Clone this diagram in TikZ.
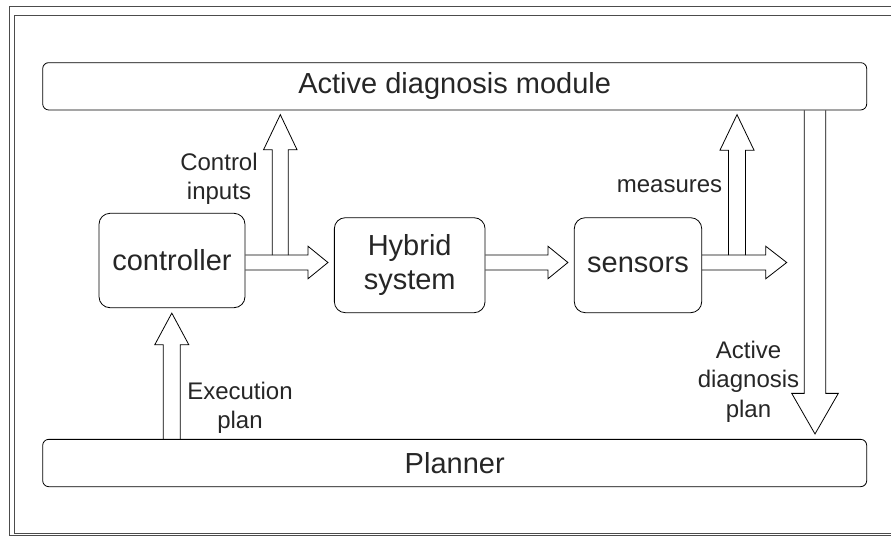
\documentclass[tikz,border=0pt]{standalone}
\usepackage{fontspec}
\setmainfont{Liberation Sans}
\usetikzlibrary{calc}

\tikzset{
  frame/.style={draw=black!70, line width=0.9pt},
  bar/.style={draw, line width=0.8pt, rounded corners=6pt, minimum width=824pt, minimum height=47.3pt, inner sep=0pt, text=black!85, font=\fontsize{29}{34}\selectfont},
  box/.style={draw, line width=0.8pt, rounded corners=11pt, align=center, inner sep=0pt, text=black!85, font=\fontsize{29}{34}\selectfont},
  fat/.style={draw, line width=0.8pt, line join=miter},
  lbl/.style={align=center, inner sep=0pt, text=black!85, font=\fontsize{24}{29.5}\selectfont}
}

% hollow block arrow: start, tip, half shaft, half head, head length
\newcommand{\fatarrow}[5]{%
  \coordinate (fa-b) at ($(#2)!#5!(#1)$);
  \draw[fat] ($(#1)!#3!90:(#2)$) -- ($(fa-b)!#3!90:(#2)$) -- ($(fa-b)!#4!90:(#2)$) -- (#2)
    -- ($(fa-b)!#4!-90:(#2)$) -- ($(fa-b)!#3!-90:(#2)$) -- ($(#1)!#3!-90:(#2)$);
}

\begin{document}
\begin{tikzpicture}[x=1pt, y=-1pt]
  \useasboundingbox (0,0) rectangle (891,536);
  \clip (0,0) rectangle (891,536);
  \draw[frame] (9.3,6) rectangle (900,535.5);
  \draw[frame] (14,15) rectangle (900,533.5);

  % modules
  \node[bar] (adm) at (454.7,86.3) {Active diagnosis module};
  \node[bar] (plan) at (454.7,463) {Planner};
  \node[box, minimum width=146pt, minimum height=94.4pt] (ctrl) at (172,260.5) {controller};
  \node[box, minimum width=150.7pt, minimum height=95pt] (hyb) at (409.7,265.2) {Hybrid\\system};
  \node[box, minimum width=127.4pt, minimum height=95pt] (sens) at (638,265.2) {sensors};

  % main row
  \coordinate (row) at (0,262.5);
  \coordinate (c1) at (ctrl.east |- row);
  \coordinate (h1) at ($(hyb.west |- row)+(-6,0)$);
  \coordinate (h2) at (hyb.east |- row);
  \coordinate (s1) at ($(sens.west |- row)+(-6,0)$);
  \coordinate (s2) at (sens.east |- row);
  \coordinate (out) at (786.7,262.5);
  \fatarrow{c1}{h1}{7.5pt}{16.3pt}{20pt}
  \fatarrow{h2}{s1}{7.5pt}{16.3pt}{20pt}
  \fatarrow{s2}{out}{7.5pt}{16.3pt}{21pt}

  % up to the diagnosis module
  \coordinate (ci) at (280.3,255);
  \coordinate (ci-t) at ($(ci |- adm.south)+(0,4.3)$);
  \coordinate (ms) at (737,255);
  \coordinate (ms-t) at ($(ms |- adm.south)+(0,4.3)$);
  \fatarrow{ci}{ci-t}{8pt}{16.7pt}{35pt}
  \fatarrow{ms}{ms-t}{8.5pt}{17pt}{35.5pt}

  % plans
  \coordinate (adp) at (815,0);
  \coordinate (adp-s) at (adp |- adm.south);
  \coordinate (adp-t) at ($(adp |- plan.north)+(0,-5)$);
  \fatarrow{adp-s}{adp-t}{10.7pt}{23.3pt}{40.6pt}
  \coordinate (ex) at (171.8,0);
  \coordinate (ex-s) at (ex |- plan.north);
  \coordinate (ex-t) at ($(ex |- ctrl.south)+(0,5)$);
  \fatarrow{ex-s}{ex-t}{8.5pt}{17pt}{31.6pt}

  % labels
  \node[lbl] (ci-l) at (219,179) {Control\\inputs};
  \node[lbl, anchor=base] (ms-l) at (669.5,192.7) {measures};
  \node[lbl] (ex-l) at (240,408) {Execution\\plan};
  \node[lbl] (adp-l) at (748.5,381.5) {Active\\diagnosis\\plan};
\end{tikzpicture}
\end{document}
